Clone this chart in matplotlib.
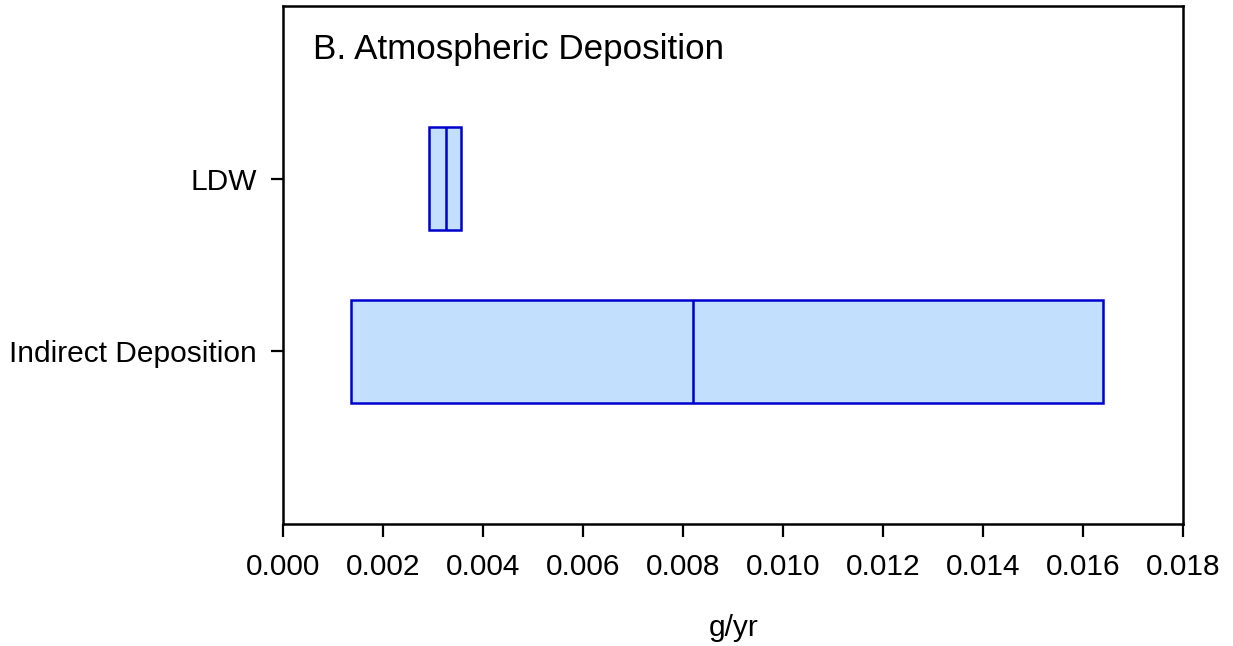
import matplotlib
matplotlib.use("Agg")
import matplotlib.pyplot as plt

## dados (g/yr)
categorias = ["Indirect Deposition", "LDW"]
q1 = [0.00135, 0.00292]
mediana = [0.00819, 0.00325]
q3 = [0.0164, 0.00356]
xticks = [0.000, 0.002, 0.004, 0.006, 0.008, 0.010, 0.012, 0.014, 0.016, 0.018]

plt.rcParams["font.family"] = ["Liberation Sans", "DejaVu Sans"]

fig = plt.figure(figsize=(12.33, 6.46), dpi=100)
ax = fig.add_axes([0.2298, 0.1889, 0.9594 - 0.2298, 0.9907 - 0.1889])

stats = []
for nome, a, m, b in zip(categorias, q1, mediana, q3):
    stats.append({"label": nome, "q1": a, "med": m, "q3": b,
                  "whislo": a, "whishi": b, "fliers": []})

ax.bxp(stats, positions=[1, 2], widths=0.6, vert=False, patch_artist=True,
       showcaps=False, showfliers=False,
       boxprops=dict(facecolor="#c2dffd", edgecolor="#0000cc", linewidth=1.8),
       medianprops=dict(color="#0000cc", linewidth=1.8),
       whiskerprops=dict(linewidth=0))

ax.set_xlim(0, 0.018)
ax.set_ylim(0, 3)
ax.set_xticks(xticks)
ax.set_xticklabels([f"{v:.3f}" for v in xticks])
ax.set_yticks([1, 2])
ax.set_yticklabels(categorias)

for s in ax.spines.values():
    s.set_linewidth(1.8)
ax.tick_params(axis="both", direction="out", length=9, width=1.6, labelsize=21.5)
ax.tick_params(axis="y", pad=10)
ax.tick_params(axis="x", pad=12)

ax.set_xlabel("g/yr", fontsize=21.5, labelpad=24)
ax.text(0.033, 0.948, "B. Atmospheric Deposition", transform=ax.transAxes,
        fontsize=25.2, va="top", ha="left")

fig.savefig("out.png", dpi=100)
